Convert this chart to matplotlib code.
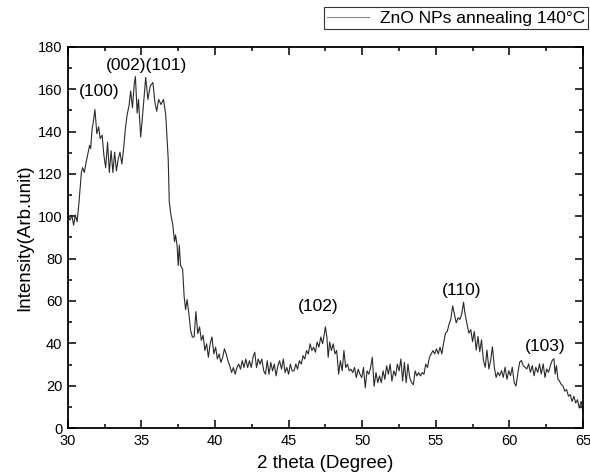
import matplotlib
matplotlib.use("Agg")
import matplotlib.pyplot as plt
from matplotlib.ticker import MultipleLocator

plt.rcParams['font.family'] = ['Liberation Sans', 'DejaVu Sans']

theta = [
    30.00, 30.15, 30.27, 30.39, 30.51, 30.63, 30.75, 30.92, 31.00, 31.12,
    31.24, 31.36, 31.48, 31.55, 31.65, 31.72, 31.84, 31.97, 32.09, 32.20,
    32.33, 32.45, 32.57, 32.70, 32.82, 32.94, 33.06, 33.18, 33.30, 33.42,
    33.54, 33.67, 33.79, 33.91, 34.03, 34.15, 34.27, 34.39, 34.51, 34.59,
    34.71, 34.80, 34.95, 35.12, 35.29, 35.44, 35.60, 35.78, 35.92, 36.04,
    36.17, 36.33, 36.50, 36.65, 36.82,
    36.89, 37.00, 37.13, 37.25, 37.32, 37.42, 37.50, 37.57, 37.66, 37.80,
    37.90, 38.00, 38.10, 38.22, 38.34, 38.46, 38.58, 38.70, 38.83, 38.95,
    39.07, 39.19, 39.31, 39.43, 39.55, 39.67, 39.79, 39.92, 40.04, 40.16,
    40.28, 40.40, 40.52, 40.64, 40.76, 40.88, 41.00, 41.13, 41.25, 41.37,
    41.49, 41.61, 41.73, 41.85, 41.97, 42.09, 42.22, 42.34, 42.46, 42.58,
    42.70, 42.82, 42.94, 43.06, 43.18, 43.31, 43.43, 43.55, 43.67, 43.79,
    43.91, 44.03, 44.15, 44.27, 44.39, 44.52, 44.64, 44.76, 44.88, 45.00,
    45.12, 45.24,
    45.37, 45.49, 45.61, 45.73, 45.86, 45.98, 46.10, 46.22, 46.34, 46.46,
    46.58, 46.70, 46.82, 46.94, 47.06, 47.19, 47.31, 47.43, 47.50, 47.60,
    47.69, 47.79, 47.91, 48.03, 48.15, 48.27, 48.40, 48.52, 48.64, 48.76,
    48.88, 49.00, 49.12, 49.24, 49.36, 49.48, 49.60, 49.73, 49.85, 49.97,
    50.09, 50.21, 50.33, 50.45, 50.57, 50.69, 50.81, 50.94, 51.06, 51.18,
    51.30, 51.42, 51.54, 51.66, 51.78, 51.90, 52.02, 52.15, 52.27, 52.39,
    52.51, 52.63, 52.75, 52.87, 52.99, 53.11, 53.23, 53.36, 53.48, 53.60,
    53.72, 53.84, 53.96, 54.08, 54.20, 54.32, 54.44, 54.57, 54.69, 54.81,
    54.93, 55.05, 55.17, 55.29, 55.41,
    55.53, 55.66, 55.78, 55.90, 56.02, 56.15, 56.27, 56.39, 56.52, 56.64,
    56.76, 56.89, 56.96, 57.06, 57.13, 57.25, 57.38, 57.50, 57.62, 57.75,
    57.87, 57.99, 58.11, 58.24, 58.36, 58.48, 58.61, 58.73, 58.85, 58.98,
    59.10, 59.22, 59.34, 59.47, 59.59, 59.71, 59.84, 59.96, 60.08, 60.20,
    60.33, 60.45, 60.57, 60.70, 60.82, 60.94, 61.07, 61.19, 61.31, 61.43,
    61.56, 61.68, 61.80, 61.93, 62.05, 62.17, 62.30, 62.42, 62.54, 62.66,
    62.79, 62.91, 63.03, 63.11, 63.20, 63.30, 63.40, 63.52, 63.65, 63.77,
    63.89, 64.02, 64.14, 64.26, 64.39, 64.51, 64.63, 64.75, 64.88, 65.00,
]

intensity = [
    100.6, 98.2, 100.6, 95.8, 100.6, 97.4, 106.0, 120.7, 123.0, 120.7,
    125.5, 129.5, 133.5, 132.0, 141.5, 144.0, 150.4, 139.0, 142.3, 136.7,
    138.3, 128.7, 123.0, 135.0, 120.7, 131.0, 120.7, 130.3, 121.5, 127.0,
    130.3, 124.7, 132.0, 141.5, 148.0, 152.0, 159.2, 151.2, 162.4, 166.0,
    148.8, 155.2, 137.5, 151.2, 165.6, 155.2, 161.6, 163.2, 153.6, 149.6,
    155.2, 152.8, 155.2, 148.0, 127.0,
    107.0, 100.8, 96.0, 88.0, 91.2, 86.4, 76.7, 86.4, 76.7, 75.0,
    62.3, 55.9, 60.7, 54.3, 46.2, 43.0, 43.0, 55.0, 44.6, 47.8,
    41.4, 43.8, 36.6, 39.8, 33.4, 39.8, 43.0, 35.0, 38.2, 32.6,
    35.0, 31.0, 33.4, 37.4, 35.0, 31.8, 29.4, 26.2, 28.6, 25.4,
    28.6, 30.2, 27.8, 31.8, 28.6, 32.6, 28.6, 31.8, 28.6, 33.4,
    35.8, 28.6, 32.6, 30.2, 32.6, 27.0, 25.4, 31.8, 25.4, 31.0,
    27.0, 30.2, 24.6, 29.4, 31.8, 27.8, 32.6, 26.2, 28.6, 25.4,
    30.2, 27.0,
    27.0, 30.2, 27.8, 31.8, 30.2, 34.2, 32.6, 36.6, 35.0, 39.8,
    36.6, 38.2, 35.8, 40.6, 38.2, 43.0, 39.8, 44.6, 47.8, 43.0,
    33.4, 40.6, 36.6, 39.8, 35.0, 36.6, 25.4, 31.8, 27.0, 36.6,
    28.6, 30.2, 27.0, 27.8, 26.2, 28.6, 23.8, 27.8, 25.4, 23.8,
    28.6, 19.0, 27.0, 25.4, 28.6, 33.4, 19.7, 26.2, 21.4, 24.6,
    21.4, 27.0, 23.0, 29.4, 25.4, 30.2, 22.2, 27.0, 24.6, 30.2,
    27.0, 32.6, 22.2, 31.0, 21.4, 30.2, 23.8, 21.4, 20.5, 27.0,
    24.6, 26.2, 24.6, 26.2, 25.4, 30.2, 28.6, 33.4, 35.0, 36.6,
    35.0, 37.4, 35.0, 38.2, 35.0,
    40.0, 44.8, 45.6, 48.9, 51.3, 57.7, 53.7, 49.7, 52.1, 51.3,
    53.7, 59.4, 55.3, 51.3, 48.9, 44.8, 46.5, 40.8, 45.6, 36.8,
    43.2, 36.0, 41.6, 31.9, 28.7, 36.8, 27.9, 31.9, 38.4, 28.7,
    23.9, 26.3, 24.7, 27.1, 23.9, 28.7, 23.0, 27.1, 24.7, 28.7,
    21.5, 19.8, 25.5, 31.1, 31.9, 29.5, 28.7, 27.9, 30.3, 26.3,
    29.5, 24.7, 28.7, 26.3, 30.3, 25.5, 30.3, 23.9, 27.9, 26.3,
    29.5, 31.9, 32.7, 25.5, 29.5, 23.0, 22.3, 20.6, 19.8, 17.4,
    18.2, 15.0, 15.8, 12.6, 15.0, 11.8, 13.4, 9.4, 12.6, 7.7,
]

peak_labels = ["(100)", "(002)(101)", "(102)", "(110)", "(103)"]
peak_label_x = [32.15, 35.35, 47.0, 56.75, 62.45]
peak_label_y = [159, 171, 57.5, 65, 38.5]

legend_label = "ZnO NPs annealing 140\u00b0C"
x_label = "2 theta (Degree)"
y_label = "Intensity(Arb.unit)"

fig = plt.figure(figsize=(5.9, 4.74), dpi=100)
ax = fig.add_axes([0.115, 0.097, 0.873, 0.804])

line, = ax.plot(theta, intensity, color="#2a2a2a", lw=0.8, label=legend_label)

ax.set_xlim(30, 65)
ax.set_ylim(0, 180)
ax.xaxis.set_major_locator(MultipleLocator(5))
ax.xaxis.set_minor_locator(MultipleLocator(2.5))
ax.yaxis.set_major_locator(MultipleLocator(20))
ax.yaxis.set_minor_locator(MultipleLocator(10))
ax.tick_params(which="both", direction="in", top=True, right=True,
               labelsize=10.5, width=1.1, pad=4, colors="black")
ax.tick_params(which="major", length=5.5)
ax.tick_params(which="minor", length=3)
for s in ax.spines.values():
    s.set_linewidth(1.3)

ax.set_xlabel(x_label, fontsize=13.5, labelpad=5)
ax.set_ylabel(y_label, fontsize=13.5, labelpad=3)

for t, xv, yv in zip(peak_labels, peak_label_x, peak_label_y):
    ax.text(xv, yv, t, ha="center", va="center", fontsize=12.5)

leg = fig.legend(handles=[line], loc="upper right",
                 bbox_to_anchor=(0.997, 0.985), fontsize=12.5,
                 frameon=True, fancybox=False, handlelength=2.4,
                 borderpad=0.2, handletextpad=0.6, borderaxespad=0)
leg.get_frame().set_edgecolor("black")
leg.get_frame().set_linewidth(0.8)
leg.get_lines()[0].set_color("#888888")

fig.savefig("out.png", dpi=100)
